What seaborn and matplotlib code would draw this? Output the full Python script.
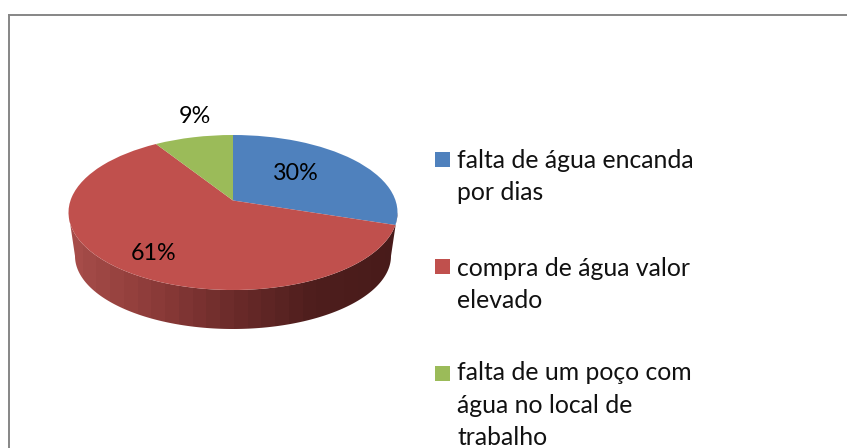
import numpy as np
import matplotlib
matplotlib.use('Agg')
import matplotlib.pyplot as plt
from matplotlib.patches import Rectangle, Polygon
from matplotlib.transforms import Transform
import seaborn as sns

labels = ['falta de água encanda\npor dias',
          'compra de água valor\nelevado',
          'falta de um poço com\nágua no local de\ntrabalho']
values = [30, 61, 9]
colors = ['#4F81BD', '#C0504D', '#9BBB59']
wall_colors = ['#A64C49', '#8C3B39', '#6B2B2A', '#4E1E1D', '#481B1A']

sns.set_theme(style='white')
plt.rcParams['font.family'] = ['Lato', 'DejaVu Sans']

# top ellipse and bottom ellipse of the 3d disc, in pixels
cx, cy, rx, ry = 233, 212.5, 164.5, 77.5
bot_cy, bot_rx, bot_ry = 256, 158, 73
tilt = 0.155  # apex sits above the ellipse centre


class Tilt(Transform):
    # perspective: keeps the unit circle on the ellipse but moves the centre
    input_dims = 2
    output_dims = 2
    has_inverse = False

    def transform_non_affine(self, xy):
        xy = np.asarray(xy)
        u, v = xy[:, 0], xy[:, 1]
        d = 1 + tilt * v
        return np.column_stack([cx + rx * u * np.sqrt(1 - tilt ** 2) / d,
                                cy - ry * (v + tilt) / d])


fig = plt.figure(figsize=(8.47, 4.48), dpi=100)
ax = fig.add_axes([9 / 847, 0, 838 / 847, (448 - 15) / 448])

wedges, _ = ax.pie(values, colors=sns.color_palette(colors), startangle=90,
                   counterclock=False, wedgeprops={'linewidth': 0})
for w in wedges:
    w.set_transform(Tilt() + ax.transData)
    w.set_zorder(3)

# side wall of the disc, gradient clipped to the outline
t = np.linspace(np.pi / 2, 3 * np.pi / 2, 200)
upper = np.column_stack([cx + rx * np.sin(t), cy - ry * np.cos(t)])
lower = np.column_stack([cx + bot_rx * np.sin(t), bot_cy - bot_ry * np.cos(t)])
wall = Polygon(np.vstack([upper, lower[::-1]]), closed=True, transform=ax.transData,
               facecolor='none', edgecolor='none')
ax.add_patch(wall)
wall_cmap = sns.blend_palette(wall_colors, as_cmap=True)
img = ax.imshow(np.linspace(0, 1, 24).reshape(1, -1), cmap=wall_cmap, aspect='auto',
                extent=(cx - rx, cx + rx, 340, 200), zorder=2)
img.set_clip_path(wall)

ax.set_aspect('auto')
ax.set_xlim(9, 847)
ax.set_ylim(448, 15)
ax.set_frame_on(True)
sns.despine(ax=ax, top=False, right=True, left=False, bottom=True)
for s in ['left', 'top']:
    ax.spines[s].set_color('#868686')
    ax.spines[s].set_linewidth(1.4)

# percent labels
pct_pos = [(296, 173.5), (154, 254), (195, 117)]
for v, (x, y) in zip(values, pct_pos):
    ax.text(x, y, f'{v}%', fontsize=16.8, color='black', ha='center', va='center', zorder=4)

# legend, marker stays on the first line of each entry
swatch_y = [152, 259, 366]
last_baseline = [200.5, 308, 445]
for lab, c, y, b in zip(labels, colors, swatch_y, last_baseline):
    ax.add_patch(Rectangle((435, y), 15, 15, facecolor=c, edgecolor='none'))
    ax.text(457, b, lab, fontsize=17.8, color='#111111', va='baseline', ha='left',
            linespacing=1.49, clip_on=False)

fig.savefig('out.png', dpi=100)
